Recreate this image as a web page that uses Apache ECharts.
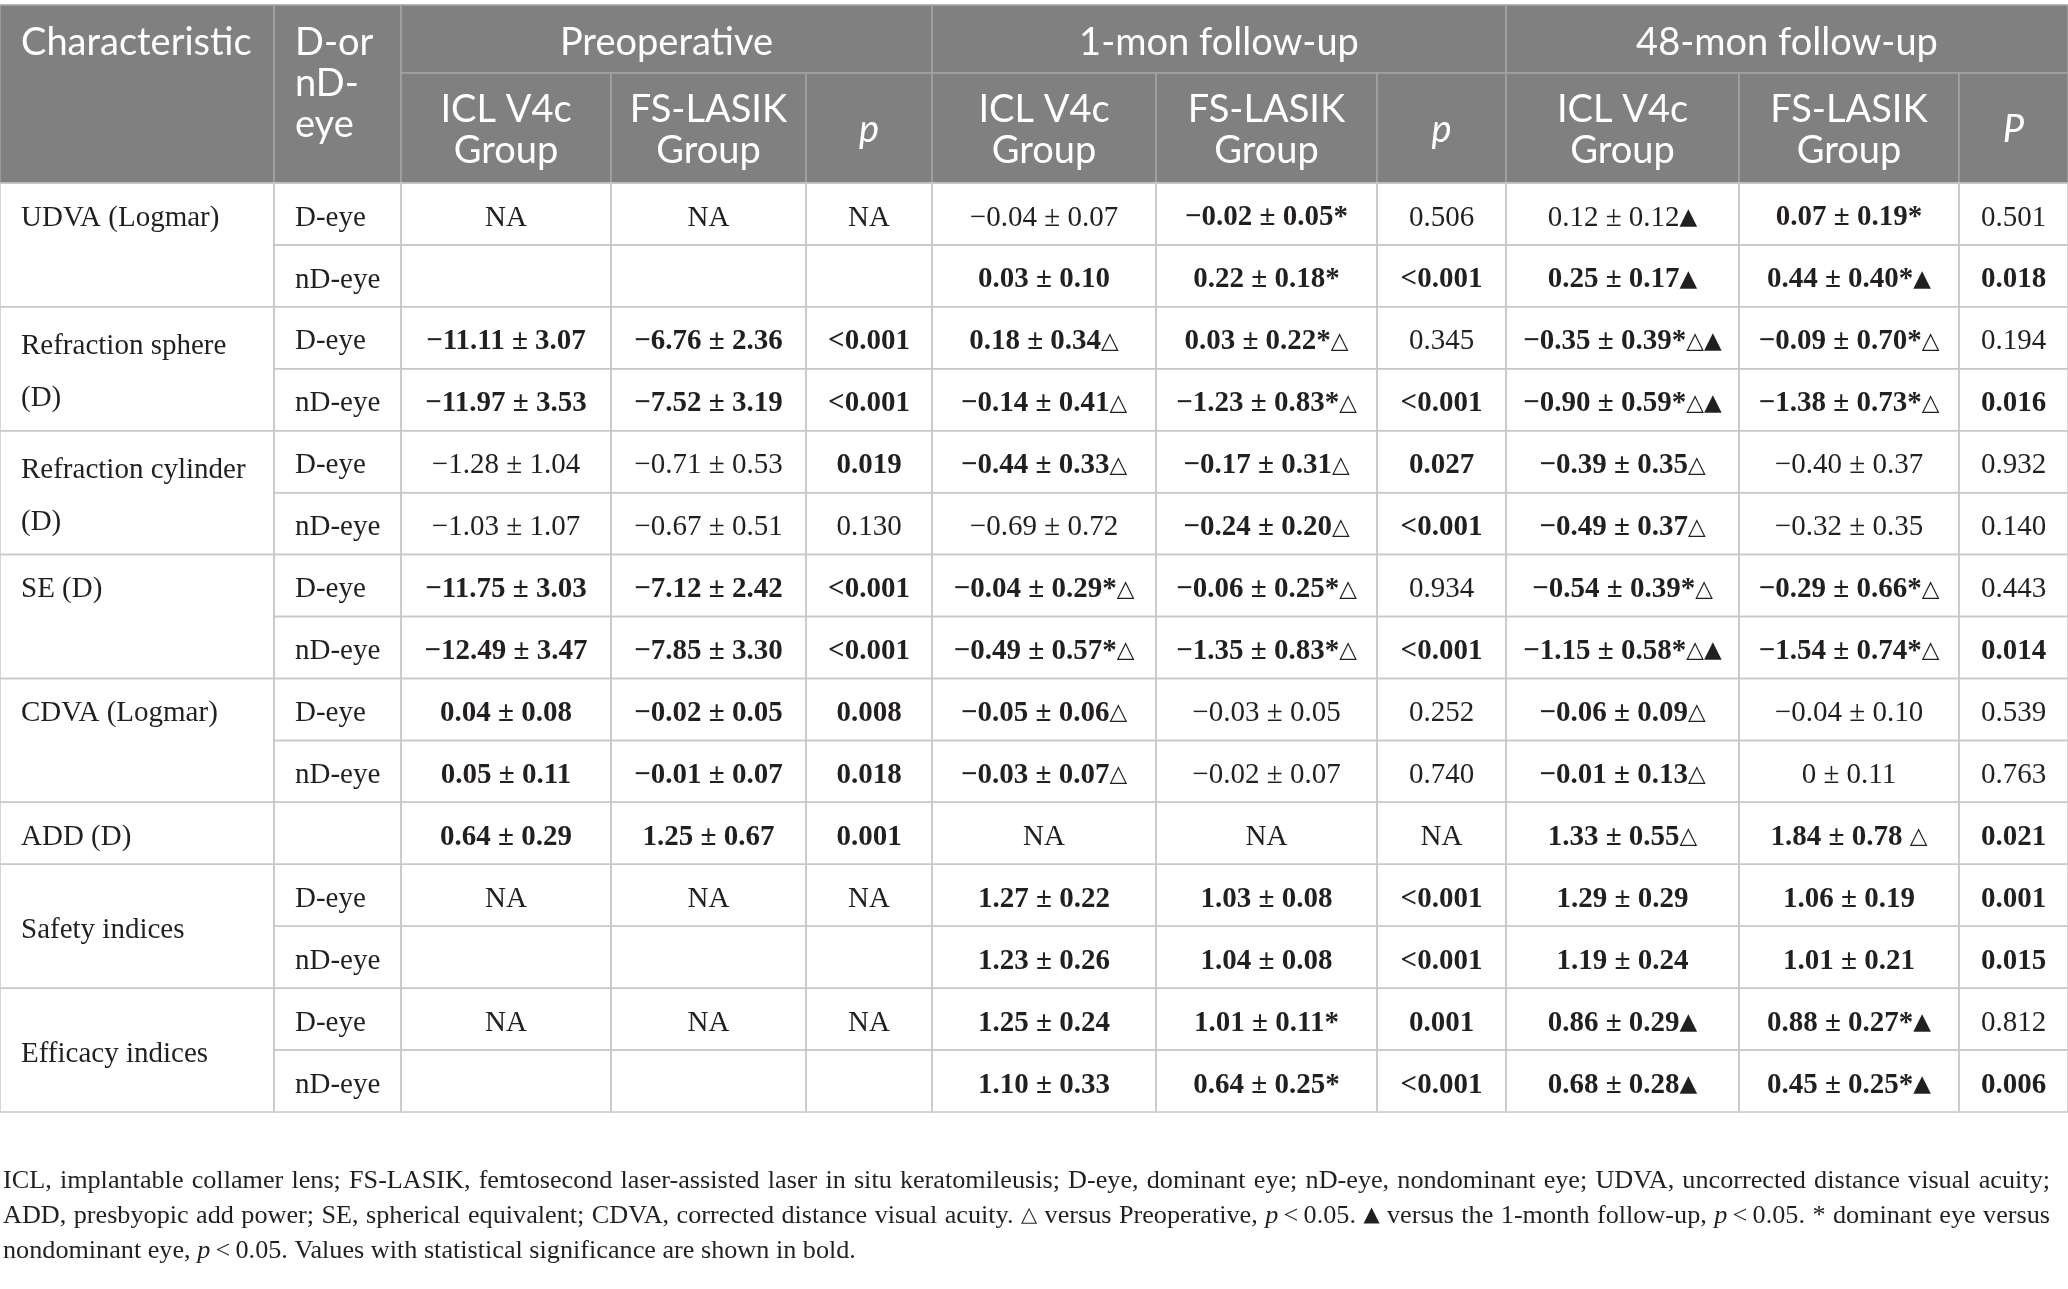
<!DOCTYPE html>
<html>
<head>
<meta charset="utf-8">
<script src="https://cdn.jsdelivr.net/npm/echarts@6/dist/echarts.min.js"></script>
<style>
html,body{margin:0;padding:0;background:#fff}
#chart{width:2068px;height:1289px}
</style>
</head>
<body>
<div id="chart"></div>
<script>
// ---- table content ----
const groupLabels = ['UDVA (Logmar)', 'Refraction sphere\n(D)', 'Refraction cylinder\n(D)', 'SE (D)',
	'CDVA (Logmar)', 'ADD (D)', 'Safety indices', 'Efficacy indices'];
const groupSpans = [2, 2, 2, 2, 2, 1, 2, 2];
const eyeLabels = ['D-eye','nD-eye','D-eye','nD-eye','D-eye','nD-eye','D-eye','nD-eye',
	'D-eye','nD-eye','','D-eye','nD-eye','D-eye','nD-eye'];
const periods = ['Preoperative', '1-mon follow-up', '48-mon follow-up'];
const groupHeads = ['ICL V4c\nGroup', 'FS-LASIK\nGroup'];
const pHeads = ['p', 'p', 'P'];

const preIcl = ['NA','','−11.11 ± 3.07','−11.97 ± 3.53','−1.28 ± 1.04','−1.03 ± 1.07','−11.75 ± 3.03',
	'−12.49 ± 3.47','0.04 ± 0.08','0.05 ± 0.11','0.64 ± 0.29','NA','','NA',''];
const preLasik = ['NA','','−6.76 ± 2.36','−7.52 ± 3.19','−0.71 ± 0.53','−0.67 ± 0.51','−7.12 ± 2.42',
	'−7.85 ± 3.30','−0.02 ± 0.05','−0.01 ± 0.07','1.25 ± 0.67','NA','','NA',''];
const preP = ['NA','','<0.001','<0.001','0.019','0.130','<0.001','<0.001','0.008','0.018','0.001','NA','','NA',''];
const m1Icl = ['−0.04 ± 0.07','0.03 ± 0.10','0.18 ± 0.34△','−0.14 ± 0.41△','−0.44 ± 0.33△','−0.69 ± 0.72',
	'−0.04 ± 0.29*△','−0.49 ± 0.57*△','−0.05 ± 0.06△','−0.03 ± 0.07△','NA','1.27 ± 0.22','1.23 ± 0.26',
	'1.25 ± 0.24','1.10 ± 0.33'];
const m1Lasik = ['−0.02 ± 0.05*','0.22 ± 0.18*','0.03 ± 0.22*△','−1.23 ± 0.83*△','−0.17 ± 0.31△',
	'−0.24 ± 0.20△','−0.06 ± 0.25*△','−1.35 ± 0.83*△','−0.03 ± 0.05','−0.02 ± 0.07','NA','1.03 ± 0.08',
	'1.04 ± 0.08','1.01 ± 0.11*','0.64 ± 0.25*'];
const m1P = ['0.506','<0.001','0.345','<0.001','0.027','<0.001','0.934','<0.001','0.252','0.740','NA',
	'<0.001','<0.001','0.001','<0.001'];
const m48Icl = ['0.12 ± 0.12▲','0.25 ± 0.17▲','−0.35 ± 0.39*△▲','−0.90 ± 0.59*△▲','−0.39 ± 0.35△',
	'−0.49 ± 0.37△','−0.54 ± 0.39*△','−1.15 ± 0.58*△▲','−0.06 ± 0.09△','−0.01 ± 0.13△','1.33 ± 0.55△',
	'1.29 ± 0.29','1.19 ± 0.24','0.86 ± 0.29▲','0.68 ± 0.28▲'];
const m48Lasik = ['0.07 ± 0.19*','0.44 ± 0.40*▲','−0.09 ± 0.70*△','−1.38 ± 0.73*△','−0.40 ± 0.37',
	'−0.32 ± 0.35','−0.29 ± 0.66*△','−1.54 ± 0.74*△','−0.04 ± 0.10','0 ± 0.11','1.84 ± 0.78 △',
	'1.06 ± 0.19','1.01 ± 0.21','0.88 ± 0.27*▲','0.45 ± 0.25*▲'];
const m48P = ['0.501','0.018','0.194','0.016','0.932','0.140','0.443','0.014','0.539','0.763','0.021',
	'0.001','0.015','0.812','0.006'];

// 1 = shown in bold (statistically significant)
const preIclBold   = [0,0,1,1,0,0,1,1,1,1,1,0,0,0,0];
const preLasikBold = [0,0,1,1,0,0,1,1,1,1,1,0,0,0,0];
const prePBold     = [0,0,1,1,1,0,1,1,1,1,1,0,0,0,0];
const m1IclBold    = [0,1,1,1,1,0,1,1,1,1,0,1,1,1,1];
const m1LasikBold  = [1,1,1,1,1,1,1,1,0,0,0,1,1,1,1];
const m1PBold      = [0,1,0,1,1,1,0,1,0,0,0,1,1,1,1];
const m48IclBold   = [0,1,1,1,1,1,1,1,1,1,1,1,1,1,1];
const m48LasikBold = [1,1,1,1,0,0,1,1,0,0,1,1,1,1,1];
const m48PBold     = [0,1,0,1,0,0,0,1,0,0,1,1,1,0,1];

const notes = [
	'ICL, implantable collamer lens; FS-LASIK, femtosecond laser-assisted laser in situ keratomileusis; D-eye, dominant eye; nD-eye, nondominant eye; UDVA, uncorrected distance visual acuity;',
	'ADD, presbyopic add power; SE, spherical equivalent; CDVA, corrected distance visual acuity. △ versus Preoperative, p\u2009<\u20090.05. ▲ versus the 1-month follow-up, p\u2009<\u20090.05. * dominant eye versus',
	'nondominant eye, p\u2009<\u20090.05. Values with statistical significance are shown in bold.'
];

const valueCols = [preIcl, preLasik, preP, m1Icl, m1Lasik, m1P, m48Icl, m48Lasik, m48P];
const boldCols = [preIclBold, preLasikBold, prePBold, m1IclBold, m1LasikBold, m1PBold, m48IclBold, m48LasikBold, m48PBold];

// ---- layout / style ----
const W = 2068, H = 1289;
const colEdges = [0, 274, 401, 611, 806, 932, 1156, 1377, 1506, 1739, 1959, 2068];
const headTop = 5, headMid = 73, headBot = 183, bodyBot = 1112;
const rowH = (bodyBot - headBot) / eyeLabels.length;
const labelVAlign = ['top', 'middle', 'middle', 'top', 'top', 'middle', 'middle', 'middle'];
const padL = 21, bodyShift = 4, headShift = 2;
const noteLeft = 3, noteRight = 2050, noteY = [1181, 1216, 1251];
const SERIF = '"Liberation Serif", "DejaVu Serif", serif';
const SANS = 'Lato, "Noto Sans", sans-serif';
const HEAD_BG = '#808080', HEAD_LINE = '#a4a4a4', BODY_LINE = '#c8c8c8', INK = '#231f20';
const bodySize = 29, headSize = 38, triSize = 23;

const triRich = {t: {fontFamily: '"DejaVu Sans"', fontSize: triSize}};
function richTri(s) {
	return s.replace(/([△▲])/g, '{t|$1}');
}

const cells = [];
function add(c) {
	c.tx = c.tx != null ? c.tx : (c.align === 'left' ? c.x0 + padL : (c.x0 + c.x1) / 2);
	c.ty = c.ty != null ? c.ty : (c.y0 + c.y1) / 2 + (c.head ? headShift : bodyShift);
	cells.push(c);
}

// header
add({x0: colEdges[0], x1: colEdges[1], y0: headTop, y1: headBot, box: true, head: true,
	text: 'Characteristic', align: 'left', ty: 41 + headShift});
add({x0: colEdges[1], x1: colEdges[2], y0: headTop, y1: headBot, box: true, head: true,
	text: 'D-or\nnD-\neye', align: 'left', ty: 82 + headShift, lh: 41});
periods.forEach(function(p, k) {
	add({x0: colEdges[2 + 3 * k], x1: colEdges[5 + 3 * k], y0: headTop, y1: headMid, box: true, head: true,
		text: p, align: 'center', ty: 41 + headShift});
	groupHeads.concat([pHeads[k]]).forEach(function(s, j) {
		add({x0: colEdges[2 + 3 * k + j], x1: colEdges[3 + 3 * k + j], y0: headMid, y1: headBot, box: true,
			head: true, text: s, italic: j === 2, align: 'center', lh: 41});
	});
});

// body
let r = 0;
groupLabels.forEach(function(g, gi) {
	const n = groupSpans[gi];
	const y0 = headBot + r * rowH, y1 = y0 + n * rowH;
	add({x0: colEdges[0], x1: colEdges[1], y0: y0, y1: y1, box: true, text: g, align: 'left', lh: 52,
		ty: (labelVAlign[gi] === 'top' ? y0 + rowH / 2 : (y0 + y1) / 2) + bodyShift});
	for (let i = 0; i < n; i++) {
		const row = r + i, ry0 = y0 + i * rowH, ry1 = ry0 + rowH;
		add({x0: colEdges[1], x1: colEdges[2], y0: ry0, y1: ry1, box: true, text: eyeLabels[row], align: 'left'});
		valueCols.forEach(function(col, j) {
			add({x0: colEdges[2 + j], x1: colEdges[3 + j], y0: ry0, y1: ry1, box: true,
				text: richTri(col[row]), bold: boldCols[j][row] === 1, align: 'center', rich: triRich});
		});
	}
	r += n;
});

// footnote: size it to the text width, then justify all but the last line
const ctx = document.createElement('canvas').getContext('2d');
function measure(font, s) { ctx.font = font; return ctx.measureText(s).width; }
const noteSize = Math.floor(10 * 24 * (noteRight - noteLeft) * 0.985 / measure('24px ' + SERIF, notes[0])) / 10;
const fNorm = noteSize + 'px ' + SERIF, fItal = 'italic ' + noteSize + 'px ' + SERIF;
const noteTri = Math.round(noteSize * 0.8);
const fTri = noteTri + 'px "DejaVu Sans"';
const noteRich = {
	t: {fontFamily: '"DejaVu Sans"', fontSize: noteTri},
	i: {fontStyle: 'italic', fontFamily: SERIF, fontSize: noteSize}
};
function token(w) {
	if (w === '△' || w === '▲') return {text: '{t|' + w + '}', width: measure(fTri, w)};
	if (w.indexOf('p\u2009') === 0) return {text: '{i|p}' + w.slice(1), width: measure(fItal, 'p') + measure(fNorm, w.slice(1))};
	return {text: w, width: measure(fNorm, w)};
}
notes.forEach(function(line, li) {
	const toks = line.split(' ').map(token);
	const sum = toks.reduce(function(a, t) { return a + t.width; }, 0);
	const gap = li < notes.length - 1 ? (noteRight - noteLeft - sum) / (toks.length - 1) : measure(fNorm, ' ');
	let x = noteLeft;
	toks.forEach(function(t) {
		add({x0: x, x1: x + t.width, y0: noteY[li], y1: noteY[li], tx: x, ty: noteY[li], text: t.text,
			align: 'left', note: true, rich: noteRich});
		x += t.width + gap;
	});
});

const chart = echarts.init(document.getElementById('chart'));
chart.setOption({
	backgroundColor: '#fff',
	animation: false,
	grid: {left: 0, right: 0, top: 0, bottom: 0},
	xAxis: {type: 'value', min: 0, max: W, show: false},
	yAxis: {type: 'value', min: 0, max: H, inverse: true, show: false},
	series: [{
		type: 'custom',
		silent: true,
		clip: false,
		data: cells.map(function(c, i) { return [c.x0, c.y0, c.x1, c.y1, c.tx, c.ty, i]; }),
		renderItem: function(params, api) {
			const c = cells[api.value(6)];
			const p0 = api.coord([api.value(0), api.value(1)]);
			const p1 = api.coord([api.value(2), api.value(3)]);
			const pt = api.coord([api.value(4), api.value(5)]);
			const children = [];
			if (c.box) {
				children.push({type: 'rect',
					shape: {x: p0[0], y: p0[1], width: p1[0] - p0[0], height: p1[1] - p0[1]},
					style: {fill: c.head ? HEAD_BG : null, stroke: c.head ? HEAD_LINE : BODY_LINE, lineWidth: 1.5}});
			}
			if (c.text) {
				children.push({type: 'text', style: {
					text: c.text, x: pt[0], y: pt[1],
					fill: c.head ? '#fff' : INK,
					fontSize: c.head ? headSize : (c.note ? noteSize : bodySize),
					fontFamily: c.head ? SANS : SERIF,
					fontWeight: c.bold ? 'bold' : 'normal',
					fontStyle: c.italic ? 'italic' : 'normal',
					align: c.align, verticalAlign: 'middle',
					lineHeight: c.lh, rich: c.rich
				}});
			}
			return {type: 'group', children: children};
		}
	}]
});
</script>
</body>
</html>
